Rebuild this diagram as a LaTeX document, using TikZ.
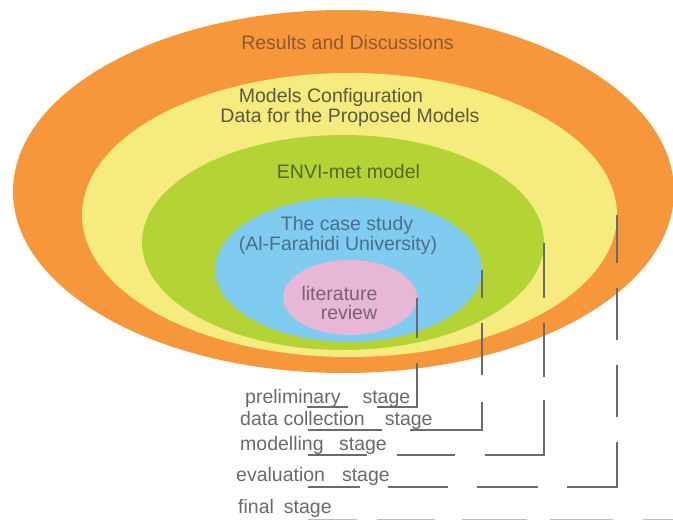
\documentclass[tikz,border=0pt]{standalone}
\usepackage{fontspec}
\setmainfont{Liberation Sans}
\usetikzlibrary{shapes.geometric}
\definecolor{cOrange}{HTML}{F6973C}
\definecolor{cYellow}{HTML}{F6EB7E}
\definecolor{cGreen}{HTML}{B4D334}
\definecolor{cBlue}{HTML}{80CCF0}
\definecolor{cPink}{HTML}{E6B8D6}
\definecolor{tOrange}{HTML}{8C5A32}
\definecolor{tYellow}{HTML}{5C5A3C}
\definecolor{tGreen}{HTML}{506A22}
\definecolor{tBlue}{HTML}{4A6E8A}
\definecolor{tPink}{HTML}{7B5E7B}
\definecolor{cStage}{HTML}{6A6A6A}
\definecolor{cLine}{HTML}{6B6B6B}
\begin{document}
\begin{tikzpicture}[x=1pt,y=-1pt,
  ring/.style={ellipse, draw=none, inner sep=0pt, outer sep=0pt},
  lbl/.style={anchor=base, font=\fontsize{19.5}{20}\selectfont, inner sep=0pt},
  stagetxt/.style={anchor=base west, font=\fontsize{19.5}{20}\selectfont, text=cStage, inner sep=0pt},
  conn/.style={draw=cLine, line width=2pt}]
\useasboundingbox (0,0) rectangle (673,520);
\fill[white] (0,0) rectangle (673,520);
% rings
\node[ring, fill=cOrange, minimum width=661pt, minimum height=363pt] (orange) at (343.5,191.5) {};
\node[ring, fill=cYellow, minimum width=535pt, minimum height=284pt] (yellow) at (349.5,215) {};
\node[ring, fill=cGreen, minimum width=402pt, minimum height=215pt] (green) at (343,242.5) {};
\node[ring, fill=cBlue, minimum width=267pt, minimum height=145pt] (blue) at (348.5,269.5) {};
\node[ring, fill=cPink, minimum width=134pt, minimum height=75pt] (pink) at (350,297.5) {};
% ring labels
\node[lbl, text=tOrange] (tres) at (347.5,49) {Results and Discussions};
\node[lbl, text=tYellow] (tmod1) at (331,102) {Models Configuration};
\node[lbl, text=tYellow] (tmod2) at (350,122) {Data for the Proposed Models};
\node[lbl, text=tGreen] (tenvi) at (348.5,178) {ENVI-met model};
\node[lbl, text=tBlue] (tcase1) at (347,230) {The case study};
\node[lbl, text=tBlue] (tcase2) at (338,250) {(Al-Farahidi University)};
\node[lbl, text=tPink] (tlit1) at (339.5,300) {literature};
\node[lbl, text=tPink] (tlit2) at (349,319) {review};
% stage labels
\node[stagetxt] (sprelim) at (245,403) {preliminary\hspace{22pt}stage};
\node[stagetxt] (sdata) at (240,425) {data collection\hspace{20pt}stage};
\node[stagetxt] (smodel) at (240,450) {modelling\hspace{15.5pt}stage};
\node[stagetxt] (seval) at (236,481) {evaluation\hspace{17pt}stage};
\node[stagetxt] (sfinal) at (238,513) {final\hspace{10pt}stage};
% connector end points
\coordinate (prelimEnd) at (307,407);
\coordinate (dataEnd) at (308,430);
\coordinate (modelEnd) at (308,455);
\coordinate (evalEnd) at (308,487);
\coordinate (finalStart) at (308,520);
\coordinate (finalEnd) at (730,520);
% connectors
\draw[conn, dash pattern=on 40.5pt off 25pt on 84pt off 29pt on 41pt off 300pt] (pink.east) |- (prelimEnd);
\draw[conn, dash pattern=on 28.5pt off 25pt on 52pt off 27pt on 100pt off 28pt on 74pt off 300pt] (blue.east) |- (dataEnd);
\draw[conn, dash pattern=on 55.5pt off 25pt on 54pt off 23pt on 114pt off 30pt on 58pt off 30pt on 59pt off 300pt] (green.east) |- (modelEnd);
\draw[conn, dash pattern=on 48pt off 25pt on 52pt off 25pt on 52pt off 25pt on 95pt off 29pt on 61pt off 29pt on 60pt off 28pt on 52pt off 300pt] (yellow.east) |- (evalEnd);
\draw[conn, draw=cLine!45, dash pattern=on 49pt off 20pt on 58pt off 27pt on 65pt off 23pt on 63pt off 30pt on 80pt off 300pt] (finalStart) -- (finalEnd);
\end{tikzpicture}
\end{document}
